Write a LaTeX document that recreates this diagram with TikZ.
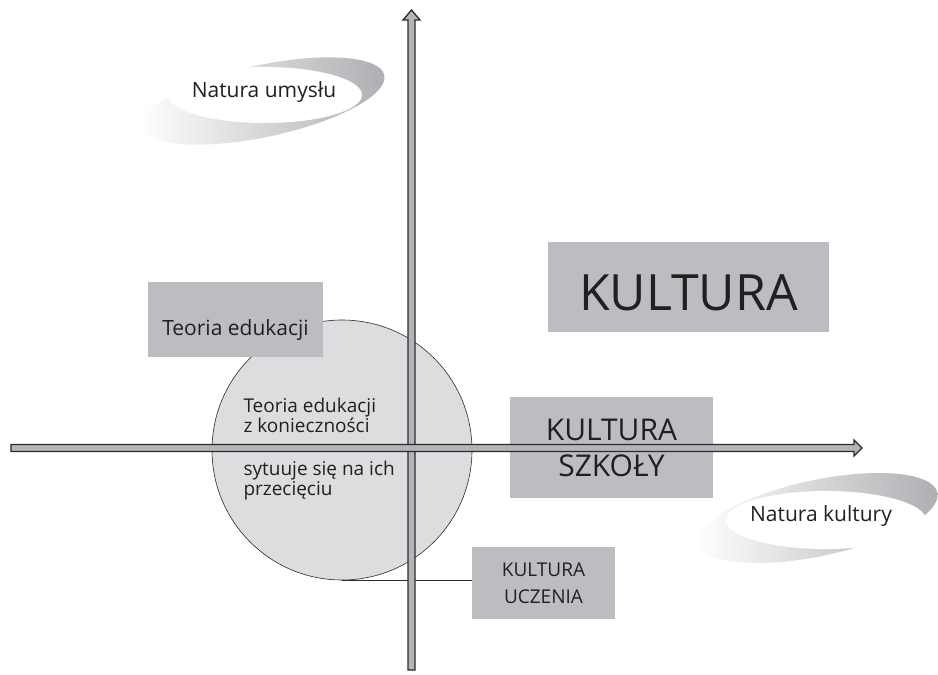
\documentclass[tikz,border=0pt]{standalone}
\usepackage{fontspec}
\setmainfont{Open Sans}
\usetikzlibrary{positioning}
\definecolor{szary}{HTML}{BCBDC0}
\definecolor{kolo}{HTML}{DCDDDF}
\definecolor{obrys}{HTML}{2B2B2B}
\definecolor{osfill}{HTML}{B4B5B8}
\definecolor{smugafill}{HTML}{ADAEB1}
\definecolor{tekst}{HTML}{231F20}
\tikzstyle{pole} = [rectangle, fill=szary, text=tekst, inner sep=0pt, align=center]
\tikzstyle{os} = [draw=obrys, fill=osfill, line width=1.3pt, line join=miter]
\tikzstyle{smuga} = [left color=white, right color=smugafill]

\begin{document}
\begin{tikzpicture}[x=1pt,y=-1pt,text=tekst]
  \useasboundingbox (0,0) rectangle (938,675);

  % kolo -- przeciecie osi
  \node[circle, draw=obrys, fill=kolo, line width=0.6pt, minimum size=260pt,
        inner sep=0pt] (przeciecie) at (342,450) {};
  \node[anchor=base west, align=left, font=\fontsize{19}{20}\selectfont]
        (opis1) at (240,432) {Teoria edukacji\\z konieczności};
  \node[anchor=base west, align=left, font=\fontsize{19}{20}\selectfont]
        (opis2) at (240,495) {sytuuje się na ich\\przecięciu};

  % pola
  \node[pole, minimum width=175pt, minimum height=75pt, text height=31pt, text depth=0pt,
        font=\fontsize{21}{25}\selectfont] (teoria) at (235.5,319.5) {Teoria edukacji};
  \node[pole, minimum width=281pt, minimum height=90pt, text height=46pt, text depth=0pt,
        font=\fontsize{50}{60}\selectfont] (kultura) at (688.5,287) {KULTURA};
  \node[pole, minimum width=203pt, minimum height=101pt,
        font=\fontsize{30}{36}\selectfont] (szkola) at (611.5,447.5) {KULTURA\\SZKOŁY};
  \node[pole, minimum width=143pt, minimum height=72pt,
        font=\fontsize{19}{27}\selectfont] (uczenie) at (543.5,583) {KULTURA\\UCZENIA};

  \draw[obrys, line width=0.8pt] (przeciecie.south) -- (przeciecie.south -| uczenie.west);

  % smugi
  \shade[smuga, rotate around={12:(263,101)}] (263,101) ellipse (124 and 36);
  \fill[white] (265,95) ellipse (97 and 28);
  \node[font=\fontsize{21}{25}\selectfont] (umysl) at (264,92) {Natura umysłu};

  \shade[smuga, rotate around={12:(818,518)}] (818,518) ellipse (122 and 38);
  \fill[white] (826,520) ellipse (100 and 29);
  \node[font=\fontsize{21}{25}\selectfont] (natkult) at (821,516) {Natura kultury};

  % osie
  \draw[os] (408,670) -- (408,20) -- (403,20) -- (411.5,10) -- (420,20)
            -- (415,20) -- (415,670) -- cycle;
  \draw[os] (11,444.5) -- (854,444.5) -- (854,440) -- (862,448) -- (854,456)
            -- (854,451.5) -- (11,451.5) -- cycle;
\end{tikzpicture}
\end{document}
